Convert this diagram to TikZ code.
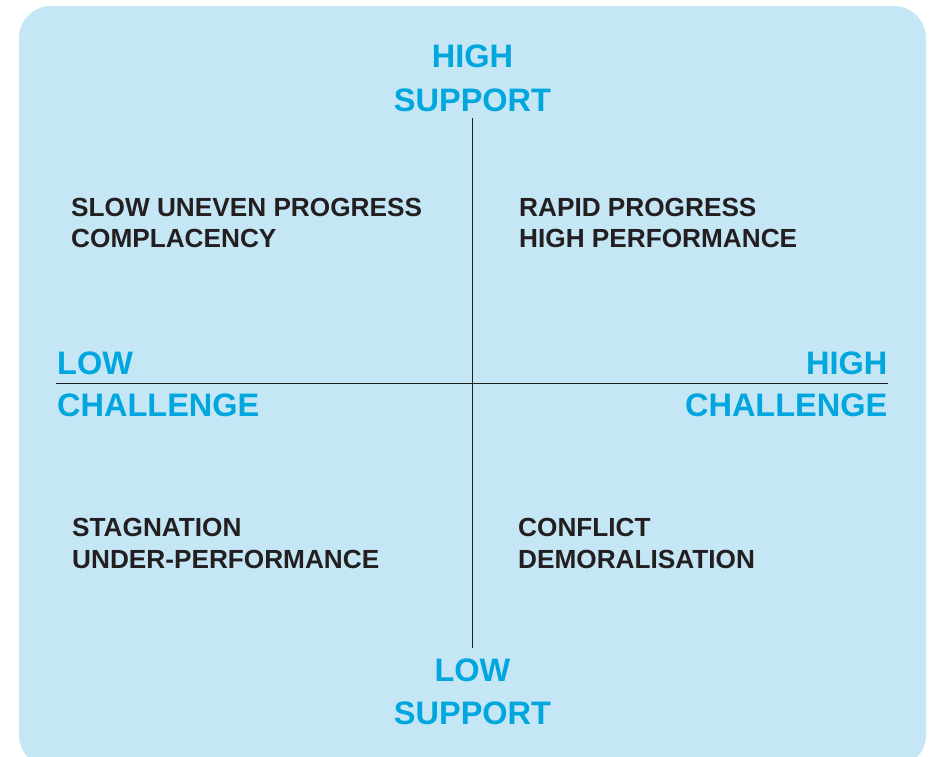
\documentclass[tikz,border=0pt]{standalone}
\usepackage{fontspec}
\setmainfont{Liberation Sans}
\definecolor{bgblue}{HTML}{C5E6F5}
\definecolor{axblue}{HTML}{00A6DE}
\definecolor{inkdark}{HTML}{231F20}
\tikzset{
  axislabel/.style={inner sep=0pt, text=axblue, font=\fontsize{32.5}{43}\selectfont\bfseries},
  quadtext/.style={inner sep=0pt, text=inkdark, align=left, anchor=north west, font=\fontsize{26.2}{31.5}\selectfont\bfseries},
  axisline/.style={draw=inkdark, line width=1.3pt}
}
\begin{document}
\begin{tikzpicture}[x=1pt,y=-1pt]
\useasboundingbox (0,0) rectangle (930,757);
\clip (0,0) rectangle (930,757);
\fill[bgblue, rounded corners=32pt] (19,6) rectangle (926,767);

\coordinate (vtop) at (472.5,118);
\coordinate (vbot) at (472.5,648);
\coordinate (hleft) at (56,383.5);
\coordinate (hright) at (887.5,383.5);
\draw[axisline] (vtop) -- (vbot);
\draw[axisline] (hleft) -- (hright);

\node[axislabel, align=center, anchor=north, font=\fontsize{32.5}{44}\selectfont\bfseries] (hs) at (472.5,44.5) {HIGH\\SUPPORT};
\node[axislabel, align=center, anchor=north, font=\fontsize{32.5}{42.5}\selectfont\bfseries] (ls) at (472.5,659) {LOW\\SUPPORT};
\node[axislabel, align=left, anchor=north west, font=\fontsize{32.5}{42}\selectfont\bfseries] (lc) at (57,352) {LOW\\CHALLENGE};
\node[axislabel, align=right, anchor=north east, font=\fontsize{32.5}{42}\selectfont\bfseries] (hc) at (887.5,352) {HIGH\\CHALLENGE};

\node[quadtext] (q1) at (71,198) {SLOW UNEVEN PROGRESS\\COMPLACENCY};
\node[quadtext] (q2) at (519,198) {RAPID PROGRESS\\HIGH PERFORMANCE};
\node[quadtext, font=\fontsize{26.2}{32}\selectfont\bfseries] (q3) at (72,518) {STAGNATION\\UNDER-PERFORMANCE};
\node[quadtext, font=\fontsize{26.2}{32}\selectfont\bfseries] (q4) at (518,518) {CONFLICT\\DEMORALISATION};
\end{tikzpicture}
\end{document}
